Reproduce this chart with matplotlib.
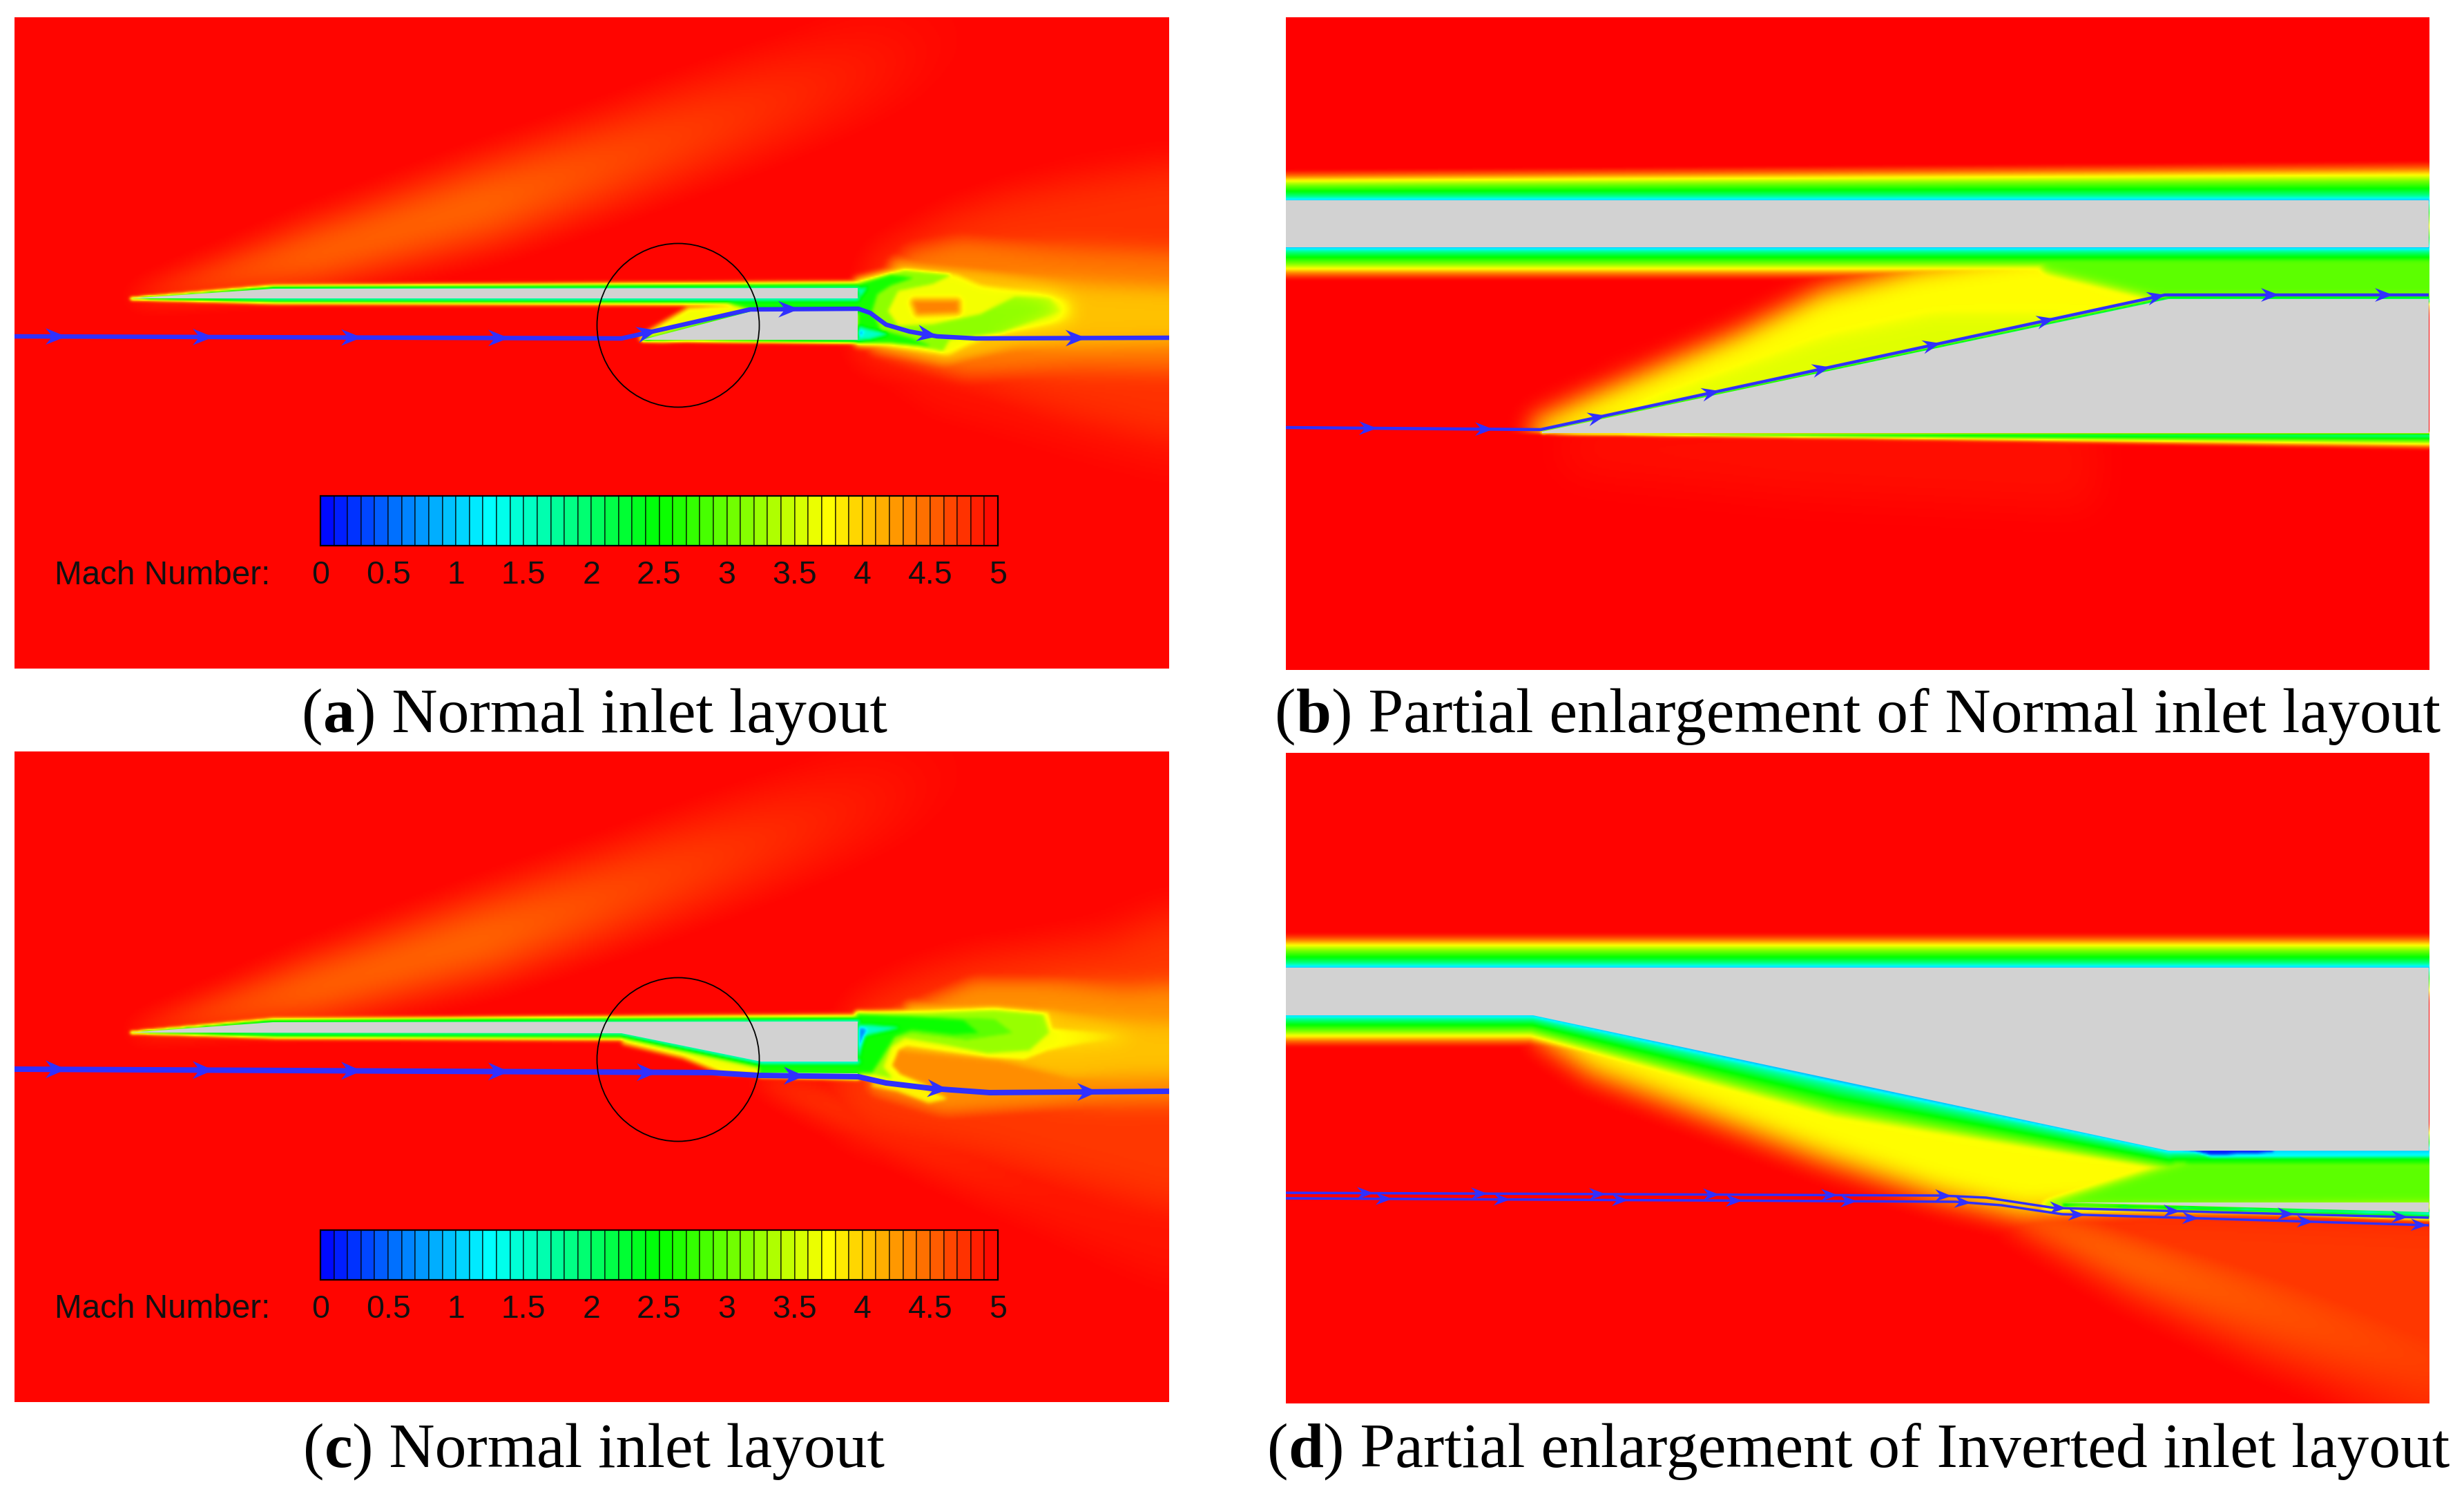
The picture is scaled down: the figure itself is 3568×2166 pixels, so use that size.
'''
Mach number contours of the normal and inverted inlet layouts
'''
import numpy as np
import matplotlib
matplotlib.use('Agg')
import matplotlib.pyplot as plt
from matplotlib.colors import LinearSegmentedColormap
from matplotlib.path import Path
from matplotlib.patches import Polygon, Ellipse

WIDTH, HEIGHT = 3568, 2166

PANEL_A = (21, 1693, 25, 968)
PANEL_B = (1862, 3517, 25, 970)
PANEL_C = (21, 1693, 1088, 2030)
PANEL_D = (1862, 3517, 1090, 2032)

MACH_TICKS = [0, 0.5, 1, 1.5, 2, 2.5, 3, 3.5, 4, 4.5, 5]
MACH_TICK_LABELS = ['0', '0.5', '1', '1.5', '2', '2.5', '3', '3.5', '4', '4.5', '5']
MACH_STEPS = np.arange(0.05, 5.0, 0.1)

# Mach number across a boundary layer, distance as a fraction of its thickness
WALL_D = [0, 0.04, 0.1, 0.3, 0.5, 0.65, 0.82, 1]
WALL_M = [0.6, 1.25, 1.7, 2.5, 3.1, 3.75, 4.5, 5]
STREAK_D = [0, 0.35, 1]
STREAK_M = [4.45, 4.58, 5]

# grey solids
A_BODY = [(189, 432), (395, 418), (1242, 417), (1242, 432)]
A_INLET = [(930, 492), (1095, 449), (1242, 449), (1242, 492)]
B_BODY = [(1862, 290), (3517, 290), (3517, 358), (1862, 358)]
B_INLET = [(2233, 625), (3140, 433), (3517, 433), (3517, 627), (2233, 627)]
C_BODY = [(189, 1495), (395, 1480), (1242, 1479), (1242, 1537), (1102, 1537), (900, 1496)]
C_SLIVER = [(1100, 1553), (1242, 1554), (1242, 1558)]
D_BODY = [(1862, 1401), (3517, 1401), (3517, 1666), (3140, 1666), (2220, 1470), (1862, 1470)]
D_SLIVER = [(2986, 1741), (3517, 1741), (3517, 1755)]

# boundary layers: wall polyline and thickness at each vertex
A_BANDS = [
    ([(189, 432), (395, 418), (1242, 417)], [1, 7, 13]),
    ([(189, 432), (400, 432), (1242, 432)], [1, 10, 13]),
    ([(930, 492), (1095, 449), (1242, 449)], [2, 6, 8]),
    ([(930, 492), (1242, 492)], [1, 6]),
]
B_BANDS = [
    ([(1862, 290), (3650, 290)], [44, 58]),
    ([(1862, 358), (3650, 358)], [47, 47]),
    ([(2233, 625), (3140, 433), (3650, 433)], [3, 9, 10]),
]
B_LOWER_BANDS = [
    ([(2231, 627), (3650, 627)], [1, 26]),
]
B_WALL_Y = 627
C_BANDS = [
    ([(189, 1495), (395, 1480), (1242, 1479)], [1, 7, 13]),
    ([(189, 1495), (400, 1496), (900, 1496), (1102, 1537), (1242, 1537)], [1, 10, 13, 18, 18]),
    ([(1100, 1557), (1242, 1558)], [3, 7]),
]
D_BANDS = [
    ([(1862, 1401), (3650, 1401)], [50, 50]),
    ([(1862, 1470), (2220, 1470), (2666, 1565), (3140, 1666)], [46, 46, 85, 45]),
    ([(3140, 1666), (3650, 1666)], [40, 40]),
    ([(2986, 1745), (3650, 1760)], [2, 16]),
]

# faint oblique waves: centre line, half width, strength
STREAK_LINE = [(189, 432), (450, 370), (702, 295), (878, 235), (1138, 140), (1350, 60)]
STREAK_WIDTH = [8, 65, 85, 90, 100, 110]
STREAK_AMP = [0.8, 1, 1, 0.75, 0.4, 0.1]
C_STREAK_LINE = [(1100, 1560), (1250, 1620), (1500, 1720), (1750, 1820)]
C_STREAK_WIDTH = [10, 45, 80, 100]
C_STREAK_AMP = [0.9, 0.5, 0.25, 0.2]
D_STREAK_LINE = [(2920, 1756), (3100, 1830), (3300, 1900), (3650, 2020)]
D_STREAK_WIDTH = [30, 70, 100, 130]
D_STREAK_AMP = [1.1, 1.0, 0.8, 0.5]

# traced iso-Mach regions: outline, Mach inside, width of the fade outside it
A_REGIONS = [
    ([(1280, 510), (1360, 570), (1850, 700), (1850, 560), (1300, 500)], 4.9, 60),
    ([(1290, 390), (1387, 337), (1467, 310), (1560, 290), (1850, 240), (1850, 650),
      (1567, 583), (1433, 540), (1360, 520), (1270, 497)], 4.75, 60),
    ([(1320, 375), (1390, 358), (1500, 365), (1850, 380), (1850, 530), (1560, 525),
      (1400, 530), (1330, 510), (1280, 495)], 4.4, 36),
    ([(1300, 385), (1415, 395), (1570, 412), (1850, 425), (1850, 490), (1470, 500),
      (1370, 520), (1270, 497)], 4.05, 24),
    ([(1243, 408), (1310, 390), (1385, 398), (1420, 413), (1500, 423), (1550, 435),
      (1553, 457), (1530, 467), (1433, 487), (1400, 500), (1373, 513), (1333, 507),
      (1270, 497), (1243, 495)], 3.7, 12),
    ([(1243, 410), (1310, 392), (1375, 398), (1350, 410), (1300, 420), (1285, 450),
      (1300, 472), (1350, 470), (1420, 455), (1470, 430), (1520, 432), (1535, 450),
      (1450, 480), (1375, 490), (1365, 507), (1330, 500), (1270, 492), (1243, 492)], 3.2, 6),
    ([(1243, 412), (1290, 398), (1320, 402), (1290, 412), (1270, 425), (1262, 450),
      (1275, 478), (1320, 490), (1345, 500), (1290, 495), (1243, 495)], 2.6, 6),
    ([(1243, 472), (1255, 476), (1285, 483), (1260, 490), (1243, 492)], 1.5, 4),
    ([(1243, 418), (1255, 416), (1248, 426), (1243, 430)], 1.6, 4),
    ([(1243, 478), (1250, 480), (1245, 488)], 0.7, 3),
    # inlet wedge and duct
    ([(930, 488), (998, 448), (1075, 443), (1098, 450), (1098, 475), (960, 490)], 3.7, 8),
    ([(1040, 433), (1242, 433), (1242, 449), (1095, 449)], 2.6, 6),
]
A_CORE = [(1325, 438), (1385, 438), (1385, 449), (1330, 451)]
A_CORE_MACH = 4.35
A_CORE_RIM_MACH = 3.7

B_REGIONS = [
    ([(2240, 622), (2303, 593), (2523, 500), (2644, 440), (2777, 405), (2950, 378),
      (3110, 380), (3220, 433), (3140, 480), (2300, 612)], 3.75, 40),
    ([(2350, 585), (2640, 480), (2800, 445), (3000, 445), (3100, 460), (3100, 490), (2350, 605)], 3.6, 50),
    ([(2940, 358), (3650, 358), (3650, 430), (3125, 430), (2960, 390)], 2.95, 22),
    ([(3000, 340), (3650, 340), (3650, 378), (3000, 378)], 2.6, 20),
]
B_LOWER_REGIONS = [
    ([(2300, 650), (2600, 680), (3000, 700), (3000, 640), (2320, 640)], 4.92, 70),
]

C_REGIONS = [
    ([(1230, 1590), (1267, 1617), (1433, 1650), (1850, 1770), (1850, 1290),
      (1617, 1393), (1417, 1423), (1333, 1450), (1270, 1480)], 4.72, 70),
    ([(1413, 1430), (1533, 1430), (1633, 1437), (1850, 1420), (1850, 1585),
      (1567, 1590), (1367, 1603), (1267, 1573), (1290, 1480)], 4.3, 30),
    ([(1317, 1460), (1440, 1457), (1520, 1463), (1627, 1478), (1850, 1490), (1850, 1555),
      (1550, 1560), (1450, 1535), (1300, 1520)], 4.05, 20),
    ([(1265, 1571), (1300, 1578), (1345, 1595), (1368, 1590), (1340, 1578)], 3.8, 8),
    ([(1243, 1467), (1317, 1465), (1440, 1460), (1517, 1467), (1523, 1490), (1640, 1500),
      (1567, 1510), (1517, 1520), (1483, 1533), (1433, 1530), (1367, 1521), (1313, 1513),
      (1300, 1519), (1290, 1543), (1303, 1557), (1340, 1572), (1283, 1569), (1243, 1555)], 3.72, 7),
    ([(1243, 1468), (1340, 1468), (1440, 1464), (1510, 1470), (1518, 1495), (1490, 1520),
      (1430, 1524), (1370, 1512), (1310, 1502), (1290, 1515), (1278, 1545), (1290, 1560),
      (1243, 1550)], 3.25, 8),
    ([(1243, 1470), (1340, 1472), (1440, 1476), (1465, 1495), (1400, 1505), (1320, 1495),
      (1295, 1502), (1272, 1540), (1262, 1552), (1243, 1552)], 2.95, 8),
    ([(1243, 1470), (1340, 1474), (1395, 1478), (1415, 1495), (1380, 1497), (1320, 1490),
      (1295, 1500), (1270, 1540), (1262, 1552), (1243, 1552)], 2.55, 10),
    ([(1243, 1485), (1260, 1485), (1300, 1488), (1260, 1497), (1250, 1500), (1243, 1530)], 1.5, 5),
    ([(1243, 1487), (1255, 1490), (1246, 1515), (1243, 1530)], 0.7, 3),
    # wedge under the ramp and duct
    ([(905, 1508), (1000, 1515), (1120, 1530), (1105, 1552), (1045, 1550), (990, 1528)], 3.7, 8),
    ([(1100, 1537), (1242, 1537), (1242, 1554), (1100, 1553)], 2.6, 5),
]

D_REGIONS = [
    ([(2980, 1760), (3650, 1790), (3650, 2050), (3400, 1930), (3100, 1815)], 4.72, 70),
    ([(2250, 1490), (2314, 1534), (2644, 1657), (2810, 1711), (2931, 1740), (3200, 1720),
      (3100, 1640), (2600, 1540)], 3.75, 44),
    ([(2960, 1745), (3120, 1695), (3170, 1680), (3650, 1680), (3650, 1740)], 2.95, 20),
    ([(3160, 1650), (3650, 1650), (3650, 1685), (3160, 1685)], 2.5, 14),
    ([(3150, 1660), (3650, 1660), (3650, 1674), (3200, 1675)], 1.2, 5),
    ([(3150, 1660), (3290, 1660), (3290, 1668), (3200, 1672)], 0.15, 3),
]

# where the far plume turns diffuse: start and end of the blend, blur size
A_DIFFUSE = (1430, 1560, 6)
C_DIFFUSE = (1500, 1620, 6)

# streamlines
A_STREAM = [(21, 487), (900, 490), (954, 478), (1086, 448), (1243, 447), (1260, 453), (1283, 470),
            (1317, 480), (1357, 487), (1413, 490), (1693, 489)]
A_ARROWS = [96, 309, 524, 737, 952, 1157, 1358, 1573]
B_STREAM = [(1862, 619), (2231, 622), (3135, 427), (3517, 427)]
B_ARROWS = [1994, 2162, 2325, 2490, 2650, 2810, 2975, 3135, 3300, 3465]
C_STREAM = [(21, 1548), (1031, 1553), (1097, 1557), (1243, 1559), (1283, 1568), (1350, 1576),
            (1433, 1582), (1693, 1580)]
C_ARROWS = [96, 309, 524, 737, 952, 1165, 1373, 1590]
D_STREAM_UP = [(1862, 1727), (2810, 1731), (2876, 1734), (2975, 1749), (3517, 1763)]
D_ARROWS_UP = [1989, 2154, 2325, 2490, 2661, 2826, 2992, 3157, 3322, 3487]
D_STREAM_LOW = [(1862, 1735), (2832, 1740), (2898, 1745), (2986, 1758), (3517, 1774)]
D_ARROWS_LOW = [2016, 2187, 2358, 2523, 2689, 2854, 3019, 3184, 3350, 3515]

CIRCLE_A = (982, 471, 235, 237)
CIRCLE_C = (982, 1534, 235, 237)

COLORBAR_TOPS = [718, 1781]

CAPTIONS = [
    (861, 1060, 'a', ' Normal inlet layout'),
    (2690, 1060, 'b', ' Partial enlargement of Normal inlet layout'),
    (860, 2124, 'c', ' Normal inlet layout'),
    (2691, 2124, 'd', ' Partial enlargement of Inverted inlet layout'),
]

STREAM_COLOR = '#3030FF'
GREY = '#D2D2D2'
CAPTION_SIZE = 66

MACH_CMAP = LinearSegmentedColormap.from_list(
    'mach', ['#0000FF', '#00FFFF', '#00FF00', '#FFFF00', '#FF0000'], N=512)


def make_grid(panel, step=2):
    '''
    Pixel centres of one panel
    '''
    x0, x1, y0, y1 = panel
    xs = np.arange(x0 + step / 2, x1, step)
    ys = np.arange(y0 + step / 2, y1, step)
    return np.meshgrid(xs, ys)


def segment_distance(gx, gy, p0, p1):
    '''
    Distance to one wall segment and the position along it
    '''
    dx, dy = p1[0] - p0[0], p1[1] - p0[1]
    t = ((gx - p0[0]) * dx + (gy - p0[1]) * dy) / (dx * dx + dy * dy)
    t = np.clip(t, 0, 1)
    return np.hypot(gx - p0[0] - t * dx, gy - p0[1] - t * dy), t


def add_band(field, gx, gy, line, thick, dist, mach, amp=None):
    '''
    Lower the Mach number around a polyline
    '''
    if amp is None:
        amp = [1] * len(line)
    for i in range(len(line) - 1):
        d, t = segment_distance(gx, gy, line[i], line[i + 1])
        w = thick[i] + (thick[i + 1] - thick[i]) * t
        a = amp[i] + (amp[i + 1] - amp[i]) * t
        m = 5 - a * (5 - np.interp(d / w, dist, mach))
        field = np.minimum(field, m)
    return field


def add_soft_streak(field, gx, gy, line, width, amp, sigma=10):
    '''
    Oblique wave, blurred on its own so it has no edge
    '''
    streak = add_band(np.full(gx.shape, 5.0), gx, gy, line, width, STREAK_D, STREAK_M, amp)
    return np.minimum(field, smooth(streak, sigma))


def signed_distance(gx, gy, poly):
    '''
    Distance to an outline, negative inside it
    '''
    best = None
    for i in range(len(poly)):
        d, _ = segment_distance(gx, gy, poly[i], poly[(i + 1) % len(poly)])
        best = d if best is None else np.minimum(best, d)
    inside = Path(poly).contains_points(np.column_stack([gx.ravel(), gy.ravel()]))
    return np.where(inside.reshape(gx.shape), -best, best)


def smooth(field, sigma):
    '''
    Small gaussian blur, the picture is a resampled raster
    '''
    r = int(3 * sigma) + 1
    kernel = np.exp(-0.5 * (np.arange(-r, r + 1) / sigma) ** 2)
    kernel = kernel / kernel.sum()
    padded = np.pad(field, r, mode='edge')
    padded = np.apply_along_axis(lambda v: np.convolve(v, kernel, mode='same'), 0, padded)
    padded = np.apply_along_axis(lambda v: np.convolve(v, kernel, mode='same'), 1, padded)
    return padded[r:-r, r:-r]


def region_weight(gx, gy, poly, soft):
    '''
    1 inside the outline, fading to 0 over soft pixels outside it
    '''
    weight = 1 - np.clip(signed_distance(gx, gy, poly) / soft, 0, 1)
    if soft >= 12:
        weight = smooth(weight, soft / 6)
    return weight


def build_field(panel, bands, regions, base=4.97):
    '''
    Mach field of one panel, the lowest value wins
    '''
    gx, gy = make_grid(panel)
    field = np.full(gx.shape, base)
    for poly, mach, soft in regions:
        field = np.minimum(field, 5 - (5 - mach) * region_weight(gx, gy, poly, soft))
    for line, thick in bands:
        field = add_band(field, gx, gy, line, thick, WALL_D, WALL_M)
    return field, gx, gy


def diffuse_far_plume(field, gx, start, end, sigma):
    '''
    Blend into a blurred copy downstream
    '''
    blend = np.clip((gx - start) / (end - start), 0, 1)
    return field * (1 - blend) + smooth(field, sigma) * blend


def panel_axes(fig, panel):
    '''
    Axes in reference pixels
    '''
    x0, x1, y0, y1 = panel
    ax = fig.add_axes([x0 / WIDTH, 1 - y1 / HEIGHT, (x1 - x0) / WIDTH, (y1 - y0) / HEIGHT])
    ax.set_xlim(x0, x1)
    ax.set_ylim(y1, y0)
    ax.axis('off')
    return ax


def show_field(ax, panel, field):
    x0, x1, y0, y1 = panel
    ax.imshow(field, extent=(x0, x1, y1, y0), cmap=MACH_CMAP, vmin=0, vmax=5,
              interpolation='bilinear', aspect='auto', zorder=1)
    ax.set_xlim(x0, x1)
    ax.set_ylim(y1, y0)


def add_solid(ax, poly):
    ax.add_patch(Polygon(poly, color=GREY, lw=0, zorder=2, clip_on=False))


def draw_stream(ax, line, arrows, lw, size):
    '''
    Streamline with swept arrow heads
    '''
    xs = [p[0] for p in line]
    ys = [p[1] for p in line]
    ax.plot(xs, ys, color=STREAM_COLOR, lw=lw * 0.72, zorder=4, solid_capstyle='butt')
    length, half, notch = size
    for x in arrows:
        y = np.interp(x, xs, ys)
        back = np.interp(x - 20, xs, ys)
        angle = np.arctan2(y - back, 20)
        c, s = np.cos(angle), np.sin(angle)
        pts = [(-length, -half), (0, 0), (-length, half), (-notch, 0)]
        head = [(x + px * c - py * s, y + px * s + py * c) for px, py in pts]
        ax.add_patch(Polygon(head, closed=True, color=STREAM_COLOR, lw=0, zorder=5))


def draw_colorbar(ax, top):
    '''
    Stepped Mach colour bar with its labels
    '''
    left, right = 464, 1445
    edges = left + (right - left) * np.arange(len(MACH_STEPS) + 1) / len(MACH_STEPS)
    ax.pcolormesh(edges, [top, top + 72], MACH_STEPS.reshape(1, -1), cmap=MACH_CMAP,
                  vmin=0, vmax=5, edgecolors=(0, 0, 0, 0.55), linewidth=1.3, zorder=6)
    ax.add_patch(Polygon([(left, top), (right, top), (right, top + 72), (left, top + 72)],
                         closed=True, fill=False, ec='black', lw=1.6, zorder=7))
    for tick, label in zip(MACH_TICKS, MACH_TICK_LABELS):
        ax.text(left + (right - left) * tick / 5, top + 115, label, ha='center', va='center',
                family='Liberation Sans', fontsize=33.5, color='#111111', zorder=7)
    ax.text(79, top + 115, 'Mach Number:', ha='left', va='center',
            family='Liberation Sans', fontsize=34.3, color='#111111', zorder=7)


def draw_caption(fig, renderer, x, y, letter, rest):
    '''
    Caption with a bold letter, centred on x
    '''
    parts = [('(', 'normal'), (letter, 'bold'), (')' + rest, 'normal')]
    texts = [fig.text(0, 1 - y / HEIGHT, s, family='Liberation Serif', weight=w,
                      fontsize=CAPTION_SIZE, va='baseline', ha='left') for s, w in parts]
    widths = [t.get_window_extent(renderer).width for t in texts]
    cursor = x - sum(widths) / 2
    for t, w in zip(texts, widths):
        t.set_x(cursor / WIDTH)
        cursor += w


def main():
    fig = plt.figure(figsize=(WIDTH / 100, HEIGHT / 100), dpi=100, facecolor='white')

    # panel a
    ax = panel_axes(fig, PANEL_A)
    field, gx, gy = build_field(PANEL_A, A_BANDS, A_REGIONS)
    field = add_soft_streak(field, gx, gy, STREAK_LINE, STREAK_WIDTH, STREAK_AMP)
    core = region_weight(gx, gy, A_CORE, 11)
    lift = np.where(core > 0, A_CORE_RIM_MACH + (A_CORE_MACH - A_CORE_RIM_MACH) * core, 0)
    field = np.maximum(field, lift)
    field = diffuse_far_plume(field, gx, *A_DIFFUSE)
    show_field(ax, PANEL_A, smooth(field, 1.2))
    add_solid(ax, A_BODY)
    add_solid(ax, A_INLET)
    draw_stream(ax, A_STREAM, A_ARROWS, 6.5, (30, 12, 20))
    ax.add_patch(Ellipse(CIRCLE_A[:2], CIRCLE_A[2], CIRCLE_A[3], fill=False, ec='black', lw=1.3, zorder=6))
    draw_colorbar(ax, COLORBAR_TOPS[0])

    # panel b
    ax = panel_axes(fig, PANEL_B)
    field, gx, gy = build_field(PANEL_B, B_BANDS, B_REGIONS, base=5.0)
    lower, _, _ = build_field(PANEL_B, B_LOWER_BANDS, B_LOWER_REGIONS, base=5.0)
    field = np.where(gy > B_WALL_Y, lower, field)
    show_field(ax, PANEL_B, smooth(field, 1.0))
    add_solid(ax, B_BODY)
    add_solid(ax, B_INLET)
    draw_stream(ax, B_STREAM, B_ARROWS, 4.5, (26, 10, 17))

    # panel c
    ax = panel_axes(fig, PANEL_C)
    field, gx, gy = build_field(PANEL_C, C_BANDS, C_REGIONS)
    shifted = [(x, y + 1063) for x, y in STREAK_LINE]
    field = add_soft_streak(field, gx, gy, shifted, STREAK_WIDTH, STREAK_AMP)
    field = add_soft_streak(field, gx, gy, C_STREAK_LINE, C_STREAK_WIDTH, C_STREAK_AMP)
    field = diffuse_far_plume(field, gx, *C_DIFFUSE)
    show_field(ax, PANEL_C, smooth(field, 1.2))
    add_solid(ax, C_BODY)
    add_solid(ax, C_SLIVER)
    draw_stream(ax, C_STREAM, C_ARROWS, 8, (30, 13, 20))
    ax.add_patch(Ellipse(CIRCLE_C[:2], CIRCLE_C[2], CIRCLE_C[3], fill=False, ec='black', lw=1.3, zorder=6))
    draw_colorbar(ax, COLORBAR_TOPS[1])

    # panel d
    ax = panel_axes(fig, PANEL_D)
    field, gx, gy = build_field(PANEL_D, D_BANDS, D_REGIONS, base=4.98)
    field = add_soft_streak(field, gx, gy, D_STREAK_LINE, D_STREAK_WIDTH, D_STREAK_AMP)
    show_field(ax, PANEL_D, smooth(field, 1.0))
    add_solid(ax, D_BODY)
    add_solid(ax, D_SLIVER)
    draw_stream(ax, D_STREAM_UP, D_ARROWS_UP, 3.5, (24, 9, 16))
    draw_stream(ax, D_STREAM_LOW, D_ARROWS_LOW, 3.5, (24, 9, 16))

    renderer = fig.canvas.get_renderer()
    for x, y, letter, rest in CAPTIONS:
        draw_caption(fig, renderer, x, y, letter, rest)

    fig.savefig('out.png', dpi=100, facecolor='white')


if __name__ == '__main__':
    main()
